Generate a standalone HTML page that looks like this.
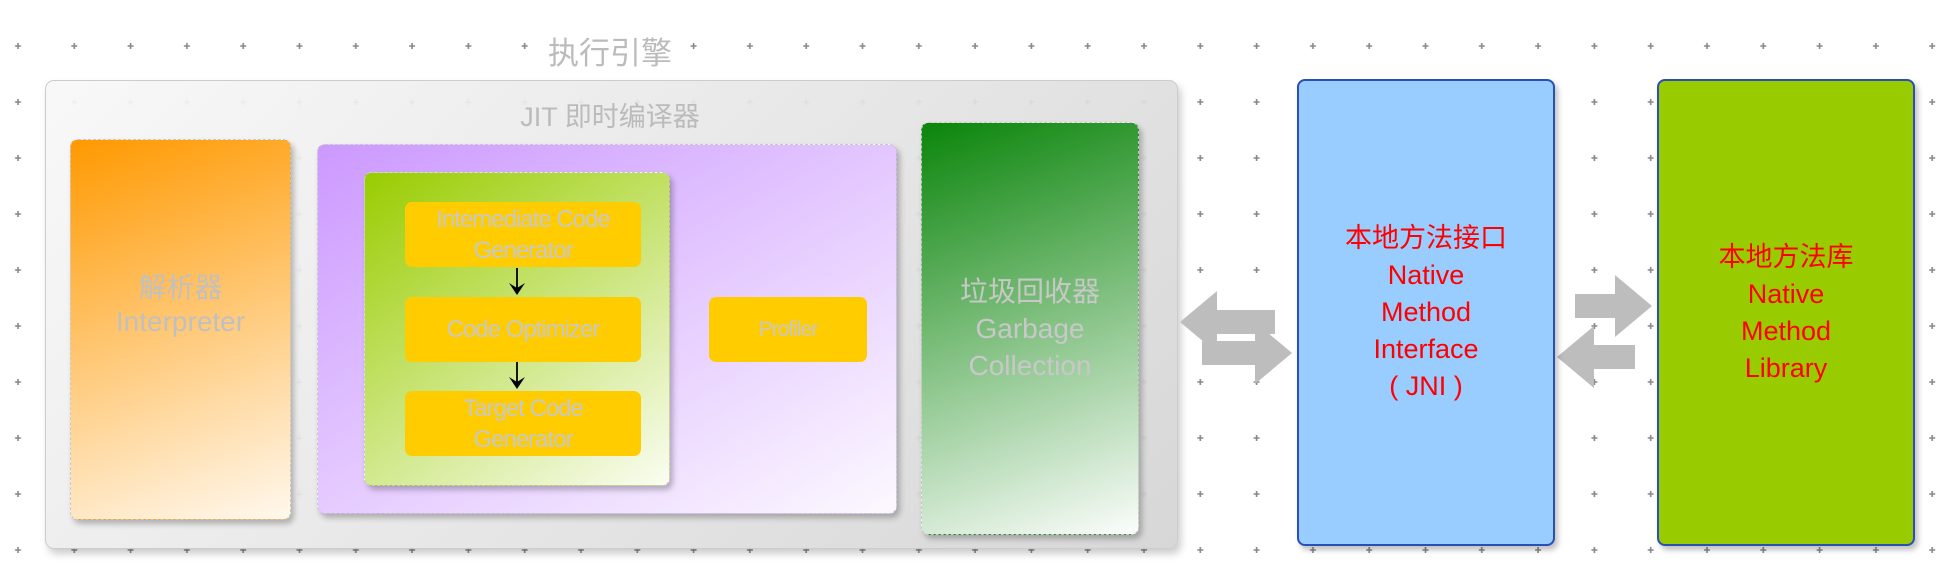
<!DOCTYPE html>
<html><head><meta charset="utf-8"><style>
body{margin:0;width:1960px;height:584px;background:#fff;position:relative;overflow:hidden;font-family:"Liberation Sans","Noto Sans CJK SC",sans-serif}
.a{position:absolute;box-sizing:border-box}
.t{display:flex;align-items:center;justify-content:center;text-align:center;flex-direction:column}
.dash{border:1.5px dashed #c8c8c8;border-radius:8px;box-shadow:3px 4px 6px rgba(0,0,0,.25)}
.y{background:#ffcc00;border-radius:7px;color:#c8c8c8;font-size:24px;line-height:31px;letter-spacing:-1px}
</style></head><body>
<svg class="a" style="left:0;top:0" width="1960" height="584">
<defs><pattern id="p" x="-10" y="18" width="56.3" height="56" patternUnits="userSpaceOnUse">
<path d="M28 25v6M25 28h6" stroke="#888" stroke-width="1.6"/></pattern></defs>
<rect width="1960" height="584" fill="url(#p)"/>
</svg>
<div class="a t" style="top:28px;left:530px;width:160px;height:44px;background:#fff;color:#bbb;font-size:31px">执行引擎</div>
<div class="a" style="left:45px;top:80px;width:1133px;height:469px;border:1.5px solid #ccc;border-radius:9px;background:linear-gradient(135deg,rgba(248,248,248,.93),rgba(212,212,212,.93));box-shadow:3px 5px 8px rgba(0,0,0,.2)"></div>
<div class="a t" style="left:480px;top:96px;width:260px;height:36px;color:#bbb;font-size:27px">JIT 即时编译器</div>
<div class="a t dash" style="left:70px;top:139px;width:221px;height:381px;padding-bottom:50px;background:linear-gradient(160deg,#ff9900,#fff8ee);color:#c0c0c0;font-size:28px;line-height:34px">解析器<br>Interpreter</div>
<div class="a dash" style="left:317px;top:144px;width:580px;height:370px;background:linear-gradient(150deg,#cc99ff,#fcf8ff)"></div>
<div class="a dash" style="left:364px;top:172px;width:306px;height:314px;background:linear-gradient(145deg,#99cc00,#fafdf2)"></div>
<div class="a t y" style="left:405px;top:202px;width:236px;height:65px">Intemediate Code<br>Generator</div>
<div class="a t y" style="left:405px;top:297px;width:236px;height:65px">Code Optimizer</div>
<div class="a t y" style="left:405px;top:391px;width:236px;height:65px">Target Code<br>Generator</div>
<div class="a t y" style="left:709px;top:297px;width:158px;height:65px;font-size:21px">Profiler</div>
<svg class="a" style="left:0;top:0" width="1960" height="584">
<path d="M517 268v25M517 362v25" stroke="#000" stroke-width="1.8"/>
<path d="M509 283l8 12 8-12l-8 5z M509 377l8 12 8-12l-8 5z" fill="#000"/>
<g fill="#bdbdbd">
<path d="M1180 322l37-31v19h58v24h-58v19z"/>
<path d="M1292 353l-37-31v19h-53v24h53v19z"/>
<path d="M1652 306l-37-31v19h-40v24h40v19z"/>
<path d="M1557 357l37-31v19h41v24h-41v19z"/>
</g></svg>
<div class="a t dash" style="left:921px;top:122px;width:218px;height:413px;background:linear-gradient(160deg,#0a850a,#fbfdfb);color:#c8c8c8;font-size:28px;line-height:37px">垃圾回收器<br>Garbage<br>Collection</div>
<div class="a t" style="left:1297px;top:79px;width:258px;height:467px;background:#99ccff;border:2px solid #2a4fb5;border-radius:8px;box-shadow:3px 4px 6px rgba(0,0,0,.25);color:#ff0000;font-size:27px;line-height:37px">本地方法接口<br>Native<br>Method<br>Interface<br>( JNI )</div>
<div class="a t" style="left:1657px;top:79px;width:258px;height:467px;background:#99cc00;border:2px solid #2a4fb5;border-radius:8px;box-shadow:3px 4px 6px rgba(0,0,0,.25);color:#ff0000;font-size:27px;line-height:37px">本地方法库<br>Native<br>Method<br>Library</div>
</body></html>
